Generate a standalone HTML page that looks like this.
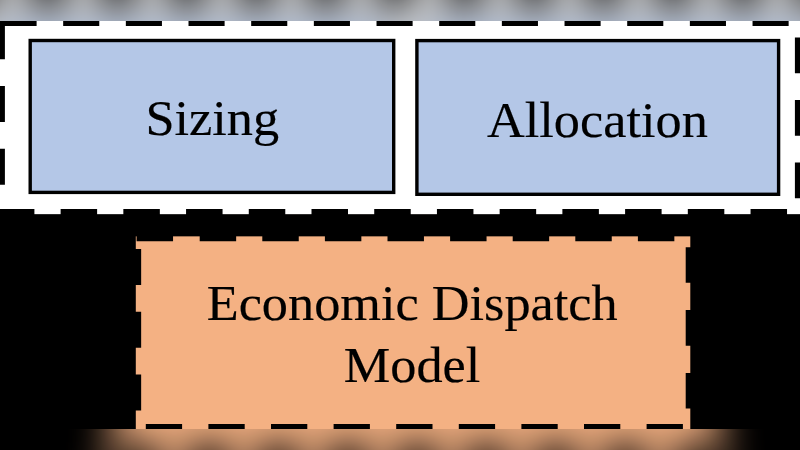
<!DOCTYPE html>
<html lang="en">
<head>
<meta charset="utf-8">
<title>Sizing, Allocation, Economic Dispatch Model</title>
<style>
html,body{margin:0;padding:0;background:#000;}
body{width:800px;height:450px;overflow:hidden;position:relative;font-family:"Liberation Serif","Times New Roman",serif;}
svg{position:absolute;left:0;top:0;display:block;}
text{font-family:"Liberation Serif","Times New Roman",serif;font-size:52px;fill:#000;stroke:#000;stroke-width:0.2px;}
</style>
</head>
<body>
<svg width="800" height="450" viewBox="0 0 800 450">
  <defs>
    <filter id="blur" filterUnits="userSpaceOnUse" x="-100" y="-100" width="1000" height="650" color-interpolation-filters="sRGB">
      <feGaussianBlur stdDeviation="19"/>
      <feComponentTransfer>
        <feFuncR type="linear" slope="0.98"/>
        <feFuncG type="linear" slope="0.98"/>
        <feFuncB type="linear" slope="0.98"/>
      </feComponentTransfer>
    </filter>
    <filter id="soft" filterUnits="userSpaceOnUse" x="-20" y="0" width="840" height="450" color-interpolation-filters="sRGB">
      <feGaussianBlur stdDeviation="0.45"/>
    </filter>
    <clipPath id="fg"><rect x="0" y="20.9" width="800" height="408.2"/></clipPath>
  </defs>
  <!-- blurred backdrop (visible only in the top and bottom bands) -->
  <g filter="url(#blur)">
    <g transform="translate(-41.9 -23.05) scale(1.108 1.1029)">
    <rect x="-60" y="-43.1" width="920" height="257.4" fill="#fff"/>
    <rect x="-60" y="214.3" width="920" height="278.8" fill="#000"/>
    <path d="M-124.84 -43.1H-88.74V26H-124.84ZM-62.17 -43.1H-26.07V26H-62.17ZM0.5 -43.1H36.6V26H0.5ZM63.17 -43.1H99.27V26H63.17ZM125.84 -43.1H161.94V26H125.84ZM188.51 -43.1H224.61V26H188.51ZM251.18 -43.1H287.28V26H251.18ZM313.85 -43.1H349.95V26H313.85ZM376.52 -43.1H412.62V26H376.52ZM439.19 -43.1H475.29V26H439.19ZM501.86 -43.1H537.96V26H501.86ZM564.53 -43.1H600.63V26H564.53ZM627.2 -43.1H663.3V26H627.2ZM689.87 -43.1H725.97V26H689.87ZM752.54 -43.1H788.64V26H752.54ZM815.21 -43.1H851.31V26H815.21ZM877.88 -43.1H913.98V26H877.88ZM-0.5 -43.1H1.5V26H-0.5ZM794.9 37.5H865V73.3H794.9ZM794.9 100H865V135.8H794.9ZM794.9 162.5H865V198.3H794.9ZM-2.1 209H34.4V215.3H-2.1ZM60.62 209H97.12V215.3H60.62ZM123.34 209H159.84V215.3H123.34ZM186.06 209H222.56V215.3H186.06ZM248.78 209H285.28V215.3H248.78ZM311.5 209H348V215.3H311.5ZM374.22 209H410.72V215.3H374.22ZM436.94 209H473.44V215.3H436.94ZM499.66 209H536.16V215.3H499.66ZM562.38 209H598.88V215.3H562.38ZM625.1 209H661.6V215.3H625.1ZM687.82 209H724.32V215.3H687.82ZM750.54 209H787.04V215.3H750.54ZM813.26 209H849.76V215.3H813.26ZM-65 23.3H4.9V59.3H-65ZM-65 86H4.9V122H-65ZM-65 148.7H4.9V184.7H-65Z" fill="#000"/>
    <rect x="30.2" y="40.5" width="363.5" height="151.9" fill="#b4c7e7" stroke="#000" stroke-width="3.4"/>
    <rect x="416.9" y="40.6" width="361.7" height="153.7" fill="#b4c7e7" stroke="#000" stroke-width="3.4"/>
    <rect x="135.8" y="236.35" width="554.5" height="256.75" fill="#f4b183"/>
    <path d="M136.6 232H173.05V241.3H136.6ZM199.7 232H236.15V241.3H199.7ZM262.3 232H298.75V241.3H262.3ZM324.9 232H361.35V241.3H324.9ZM387.5 232H423.95V241.3H387.5ZM450.1 232H486.55V241.3H450.1ZM512.7 232H549.15V241.3H512.7ZM575.3 232H611.75V241.3H575.3ZM637.9 232H674.35V241.3H637.9ZM685.7 247.2H695V282.8H685.7ZM685.7 310.1H695V345.7H685.7ZM685.7 373H695V408.6H685.7ZM145.8 424H182.1V493.1H145.8ZM208.4 424H244.7V493.1H208.4ZM271 424H307.3V493.1H271ZM333.6 424H369.9V493.1H333.6ZM396.2 424H432.5V493.1H396.2ZM458.8 424H495.1V493.1H458.8ZM521.4 424H557.7V493.1H521.4ZM584 424H620.3V493.1H584ZM646.6 424H682.9V493.1H646.6ZM131 248.9H141.15V285H131ZM131 311.65H141.15V347.75H131ZM131 374.4H141.15V410.5H131Z" fill="#000"/>
    </g>
  </g>
  <!-- foreground diagram -->
  <g clip-path="url(#fg)">
   <g filter="url(#soft)">
    <rect x="-60" y="16.9" width="920" height="197.4" fill="#fff"/>
    <rect x="-60" y="214.3" width="920" height="218.8" fill="#000"/>
    <path d="M-124.84 16.9H-88.74V26H-124.84ZM-62.17 16.9H-26.07V26H-62.17ZM0.5 16.9H36.6V26H0.5ZM63.17 16.9H99.27V26H63.17ZM125.84 16.9H161.94V26H125.84ZM188.51 16.9H224.61V26H188.51ZM251.18 16.9H287.28V26H251.18ZM313.85 16.9H349.95V26H313.85ZM376.52 16.9H412.62V26H376.52ZM439.19 16.9H475.29V26H439.19ZM501.86 16.9H537.96V26H501.86ZM564.53 16.9H600.63V26H564.53ZM627.2 16.9H663.3V26H627.2ZM689.87 16.9H725.97V26H689.87ZM752.54 16.9H788.64V26H752.54ZM815.21 16.9H851.31V26H815.21ZM877.88 16.9H913.98V26H877.88ZM-0.5 16.9H1.5V26H-0.5ZM794.9 37.5H805V73.3H794.9ZM794.9 100H805V135.8H794.9ZM794.9 162.5H805V198.3H794.9ZM-2.1 209H34.4V215.3H-2.1ZM60.62 209H97.12V215.3H60.62ZM123.34 209H159.84V215.3H123.34ZM186.06 209H222.56V215.3H186.06ZM248.78 209H285.28V215.3H248.78ZM311.5 209H348V215.3H311.5ZM374.22 209H410.72V215.3H374.22ZM436.94 209H473.44V215.3H436.94ZM499.66 209H536.16V215.3H499.66ZM562.38 209H598.88V215.3H562.38ZM625.1 209H661.6V215.3H625.1ZM687.82 209H724.32V215.3H687.82ZM750.54 209H787.04V215.3H750.54ZM813.26 209H849.76V215.3H813.26ZM-5 23.3H4.9V59.3H-5ZM-5 86H4.9V122H-5ZM-5 148.7H4.9V184.7H-5Z" fill="#000"/>
    <rect x="30.2" y="40.5" width="363.5" height="151.9" fill="#b4c7e7" stroke="#000" stroke-width="3.4"/>
    <rect x="416.9" y="40.6" width="361.7" height="153.7" fill="#b4c7e7" stroke="#000" stroke-width="3.4"/>
    <rect x="135.8" y="236.35" width="554.5" height="196.75" fill="#f4b183"/>
    <path d="M136.6 232H173.05V241.3H136.6ZM199.7 232H236.15V241.3H199.7ZM262.3 232H298.75V241.3H262.3ZM324.9 232H361.35V241.3H324.9ZM387.5 232H423.95V241.3H387.5ZM450.1 232H486.55V241.3H450.1ZM512.7 232H549.15V241.3H512.7ZM575.3 232H611.75V241.3H575.3ZM637.9 232H674.35V241.3H637.9ZM685.7 247.2H695V282.8H685.7ZM685.7 310.1H695V345.7H685.7ZM685.7 373H695V408.6H685.7ZM145.8 424H182.1V433.1H145.8ZM208.4 424H244.7V433.1H208.4ZM271 424H307.3V433.1H271ZM333.6 424H369.9V433.1H333.6ZM396.2 424H432.5V433.1H396.2ZM458.8 424H495.1V433.1H458.8ZM521.4 424H557.7V433.1H521.4ZM584 424H620.3V433.1H584ZM646.6 424H682.9V433.1H646.6ZM131 248.9H141.15V285H131ZM131 311.65H141.15V347.75H131ZM131 374.4H141.15V410.5H131Z" fill="#000"/>
    <text transform="translate(212.3 134.9) scale(1.006 0.97)" text-anchor="middle">Sizing</text>
    <text transform="translate(597.4 136.5) scale(1.006 0.97)" text-anchor="middle">Allocation</text>
    <text transform="translate(412.2 319.5) scale(1.006 0.97)" text-anchor="middle">Economic Dispatch</text>
    <text transform="translate(412 382.2) scale(1.006 0.97)" text-anchor="middle">Model</text>
   </g>
  </g>
</svg>
</body>
</html>
